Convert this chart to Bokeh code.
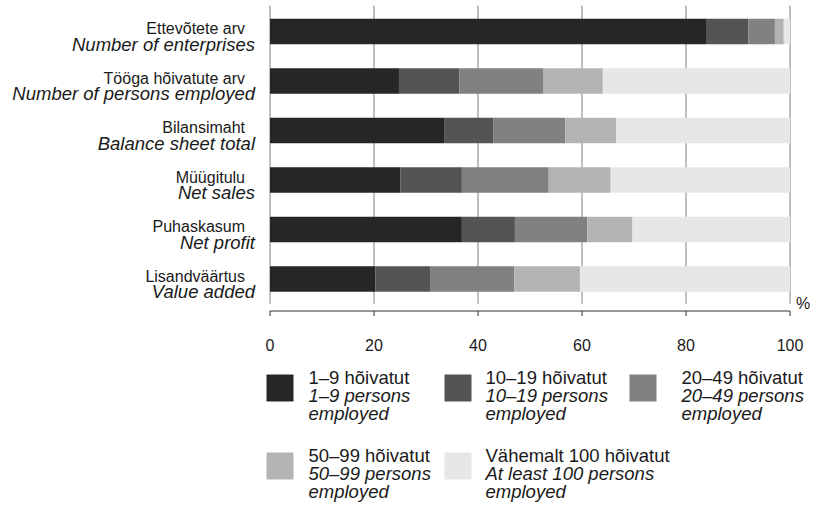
from bokeh.plotting import figure
from bokeh.models import Range1d, ColumnDataSource
from bokeh.embed import file_html
from bokeh.resources import INLINE
from bokeh.core.properties import value

# ---------------- data ----------------
categories_et = ["Ettevõtete arv", "Tööga hõivatute arv", "Bilansimaht",
                 "Müügitulu", "Puhaskasum", "Lisandväärtus"]
categories_en = ["Number of enterprises", "Number of persons employed",
                 "Balance sheet total", "Net sales", "Net profit", "Value added"]

s_1_9 = [84.0, 24.8, 33.6, 25.1, 36.9, 20.3]
s_10_19 = [8.0, 11.6, 9.4, 11.8, 10.2, 10.6]
s_20_49 = [5.1, 16.1, 13.8, 16.7, 13.9, 16.1]
s_50_99 = [1.7, 11.5, 9.8, 11.9, 8.7, 12.6]
s_100 = [1.2, 36.0, 33.4, 34.5, 30.3, 40.4]

legend_et = ["1–9 hõivatut", "10–19 hõivatut", "20–49 hõivatut",
             "50–99 hõivatut", "Vähemalt 100 hõivatut"]
legend_en = ["1–9 persons", "10–19  persons", "20–49 persons",
             "50–99 persons", "At least 100 persons"]
legend_en2 = ["employed", "employed", "employed", "employed", "employed"]

x_ticks = [0, 20, 40, 60, 80, 100]
x_tick_labels = ["0", "20", "40", "60", "80", "100"]
unit_label = "%"

# ---------------- styles / layout ----------------
colors = ["#262626", "#545454", "#818181", "#b3b3b3", "#e7e7e7"]
FONT = "Liberation Sans"
TXT = "#1a1a1a"
GRID = "#808080"
AXIS = "#333333"

W, H = 810, 505
X0, KX = 269.5, 5.2       # pixel of value 0 and pixels per percent
YB, KY = 278.5, 49.5      # pixel of the lowest row centre and pixels per row


def px_x(fx):
    return (fx - X0) / KX


def px_y(fy):
    return (YB - fy) / KY


n = len(categories_et)
ypos = [n - 1 - i for i in range(n)]
keys = ["s1", "s2", "s3", "s4", "s5"]
source = ColumnDataSource(dict(y=ypos, s1=s_1_9, s2=s_10_19, s3=s_20_49,
                               s4=s_50_99, s5=s_100))

p = figure(width=W, height=H, x_range=Range1d(px_x(0), px_x(W)),
           y_range=Range1d(px_y(H), px_y(0)), toolbar_location=None,
           output_backend="svg", x_axis_location=None, y_axis_location=None,
           min_border=0, outline_line_color=None)
p.xgrid.visible = False
p.ygrid.visible = False

nt = len(x_ticks)
# vertical grid lines at the ticks, down to half a band below the last bar
p.segment(x0=x_ticks, x1=x_ticks, y0=[-0.5] * nt, y1=[px_y(5)] * nt,
          line_color=GRID, line_width=1)

p.hbar_stack(keys, y="y", height=0.52, color=colors, line_color=None, source=source)

# x axis: line, outward ticks and labels
AX_Y = 310.5
y_axis_line = px_y(AX_Y)
p.segment(x0=[x_ticks[0]], x1=[x_ticks[-1]], y0=[y_axis_line], y1=[y_axis_line],
          line_color=AXIS, line_width=1)
p.segment(x0=x_ticks, x1=x_ticks, y0=[y_axis_line] * nt, y1=[px_y(AX_Y + 5)] * nt,
          line_color=AXIS, line_width=1)
p.text(x=x_ticks, y=[px_y(AX_Y + 33.5)] * nt, text=x_tick_labels, text_align="center",
       text_baseline="alphabetic", text_font=value(FONT), text_font_size="16px",
       text_color=TXT)
p.text(x=[x_ticks[-1] + 6 / KX], y=[-0.5], text=[unit_label], text_align="left",
       text_baseline="alphabetic", text_font=value(FONT), text_font_size="16px",
       text_color=TXT)

# category labels (Estonian regular, English italic)
p.text(x=[-25 / KX] * n, y=[v + 3 / KY for v in ypos], text=categories_et,
       text_align="right", text_baseline="alphabetic", text_font=value(FONT),
       text_font_size="16px", text_color=TXT)
p.text(x=[-15 / KX] * n, y=[v - 12.5 / KY for v in ypos], text=categories_en,
       text_align="right", text_baseline="alphabetic", text_font=value(FONT),
       text_font_size="18.5px", text_font_style="italic", text_color=TXT)

# ---------------- legend ----------------
sw_x = [266, 444, 629, 266, 444]
tx_x = [308, 485, 681, 308, 485]
row_top = [374, 374, 374, 452, 452]
SW = 27
LS = 18

p.quad(left=[px_x(x) for x in sw_x], right=[px_x(x + SW) for x in sw_x],
       top=[px_y(t) for t in row_top], bottom=[px_y(t + SW) for t in row_top],
       color=colors, line_color=None)
lx = [px_x(x) for x in tx_x]
p.text(x=lx, y=[px_y(t + 3) for t in row_top], text=legend_et,
       text_font=value(FONT), text_font_size="18.5px", text_baseline="alphabetic",
       text_align="left", text_color=TXT)
p.text(x=lx, y=[px_y(t + 3 + LS) for t in row_top], text=legend_en,
       text_font=value(FONT), text_font_size="18.5px", text_font_style="italic",
       text_baseline="alphabetic", text_align="left", text_color=TXT)
p.text(x=lx, y=[px_y(t + 3 + 2 * LS) for t in row_top], text=legend_en2,
       text_font=value(FONT), text_font_size="18.5px", text_font_style="italic",
       text_baseline="alphabetic", text_align="left", text_color=TXT)

open("out.html", "w").write(file_html(p, INLINE))
